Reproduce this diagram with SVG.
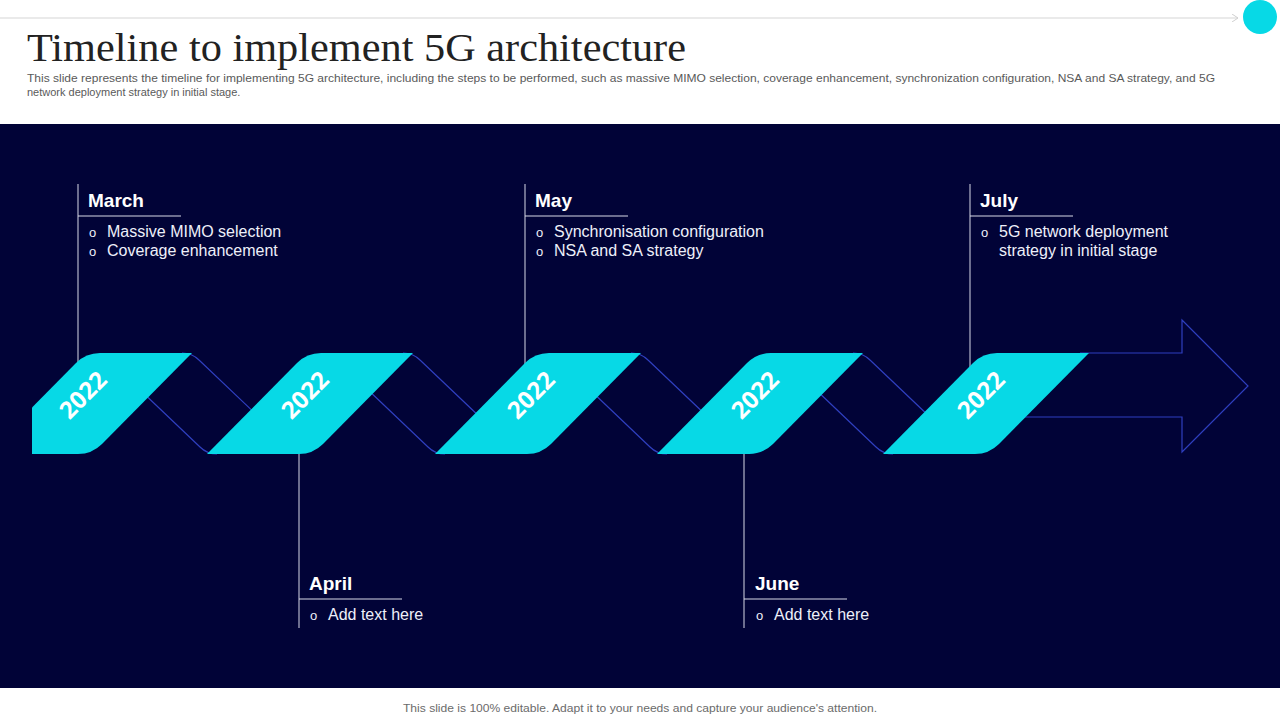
<svg xmlns="http://www.w3.org/2000/svg" width="1280" height="720" viewBox="0 0 1280 720">
<defs>
<style>
.title{font-family:"Liberation Serif","Times New Roman",serif;font-size:40px;fill:#222222}
.sub{font-family:"Liberation Sans",Arial,sans-serif;font-size:11px;fill:#5a5a5a}
.foot{font-family:"Liberation Sans",Arial,sans-serif;font-size:11px;fill:#6b6b6b}
.head{font-family:"Liberation Sans",Arial,sans-serif;font-size:19px;font-weight:bold;fill:#ffffff}
.item{font-family:"Liberation Sans",Arial,sans-serif;font-size:16px;fill:#eef0fa}
.bul{font-family:"Liberation Sans",Arial,sans-serif;font-size:13px;fill:#eef0fa}
.year{font-family:"Open Sans","Noto Sans",sans-serif;font-size:24px;font-weight:bold;fill:#ffffff}
.front{fill:#07d9e6}
.back{fill:none;stroke:#2f3fbf;stroke-width:1.2}
.lead{stroke:#d8dae8;stroke-width:1;fill:none}
</style>
<clipPath id="clipL"><rect x="32" y="300" width="400" height="200"/></clipPath>
<marker id="tip" markerWidth="8" markerHeight="8" refX="6" refY="4" orient="auto" markerUnits="userSpaceOnUse">
<path d="M0,0 L6,4 L0,8" fill="none" stroke="#cfcfcf" stroke-width="1"/>
</marker>
</defs>
<rect width="1280" height="720" fill="#ffffff"/>
<line x1="0" y1="18" x2="1238" y2="18" stroke="#d6d6d6" stroke-width="1.2" marker-end="url(#tip)"/>
<circle cx="1260" cy="17" r="17" fill="#07d9e6"/>
<text class="title" x="27" y="61" textLength="659" lengthAdjust="spacingAndGlyphs">Timeline to implement 5G architecture</text>
<text class="sub" x="27" y="82" textLength="1188" lengthAdjust="spacingAndGlyphs">This slide represents the timeline for implementing 5G architecture, including the steps to be performed, such as massive MIMO  selection, coverage enhancement, synchronization configuration, NSA and SA strategy, and 5G</text>
<text class="sub" x="27" y="96">network deployment strategy in initial stage.</text>
<rect x="0" y="124" width="1280" height="564" fill="#010337"/>
<text class="foot" x="403" y="712" textLength="474" lengthAdjust="spacingAndGlyphs">This slide is 100% editable. Adapt it to your needs and capture your audience's attention.</text>

<g id="connectors">
<line class="lead" x1="78" y1="184" x2="78" y2="400"/>
<line class="lead" x1="525" y1="184" x2="525" y2="400"/>
<line class="lead" x1="970" y1="184" x2="970" y2="400"/>
<line class="lead" x1="299" y1="420" x2="299" y2="628"/>
<line class="lead" x1="744" y1="420" x2="744" y2="628"/>
</g>

<g id="ribbon">
<g id="back-strips">
<path class="back" d="M182,353 Q192,353 199,360 L261,419"/>
<path class="back" d="M137,387 L200,447 Q207,454 217,454"/>
<path class="back" d="M403,353 Q413,353 420,360 L482,419"/>
<path class="back" d="M365,387 L428,447 Q435,454 445,454"/>
<path class="back" d="M631,353 Q641,353 648,360 L710,419"/>
<path class="back" d="M587,387 L650,447 Q657,454 667,454"/>
<path class="back" d="M853,353 Q863,353 870,360 L932,419"/>
<path class="back" d="M813,387 L876,447 Q883,454 893,454"/>
<path class="back" d="M1080,353 L1182,353 L1182,320 L1248,386 L1182,452 L1182,417 L1015,417"/>
</g>
<g id="seg1">
<path class="front" clip-path="url(#clipL)" d="M-14,454 L76,363 Q86,353 100,353 L192,353 L102,444 Q92,454 78,454 Z"/>
<text class="year" transform="translate(89,401) rotate(-45)" text-anchor="middle">2022</text>
</g>
<g id="seg2">
<path class="front" d="M207,454 L297,363 Q307,353 321,353 L413,353 L323,444 Q313,454 299,454 Z"/>
<text class="year" transform="translate(311,401) rotate(-45)" text-anchor="middle">2022</text>
</g>
<g id="seg3">
<path class="front" d="M435,454 L525,363 Q535,353 549,353 L641,353 L551,444 Q541,454 527,454 Z"/>
<text class="year" transform="translate(537,401) rotate(-45)" text-anchor="middle">2022</text>
</g>
<g id="seg4">
<path class="front" d="M657,454 L747,363 Q757,353 771,353 L863,353 L773,444 Q763,454 749,454 Z"/>
<text class="year" transform="translate(761,401) rotate(-45)" text-anchor="middle">2022</text>
</g>
<g id="seg5">
<path class="front" d="M883,454 L973,363 Q983,353 997,353 L1089,353 L999,444 Q989,454 975,454 Z"/>
<text class="year" transform="translate(987,401) rotate(-45)" text-anchor="middle">2022</text>
</g>
</g>

<g id="node-march">
<line class="lead" x1="78" y1="216" x2="181" y2="216"/>
<text class="head" x="88" y="207">March</text>
<text class="bul" x="89" y="237">o</text>
<text class="item" x="107" y="237">Massive MIMO  selection</text>
<text class="bul" x="89" y="256">o</text>
<text class="item" x="107" y="256">Coverage enhancement</text>
</g>
<g id="node-may">
<line class="lead" x1="525" y1="216" x2="628" y2="216"/>
<text class="head" x="535" y="207">May</text>
<text class="bul" x="536" y="237">o</text>
<text class="item" x="554" y="237">Synchronisation configuration</text>
<text class="bul" x="536" y="256">o</text>
<text class="item" x="554" y="256">NSA and SA strategy</text>
</g>
<g id="node-july">
<line class="lead" x1="970" y1="216" x2="1073" y2="216"/>
<text class="head" x="980" y="207">July</text>
<text class="bul" x="981" y="237">o</text>
<text class="item" x="999" y="237">5G network deployment</text>
<text class="item" x="999" y="256">strategy in initial stage</text>
</g>
<g id="node-april">
<line class="lead" x1="299" y1="599" x2="402" y2="599"/>
<text class="head" x="309" y="590">April</text>
<text class="bul" x="310" y="620">o</text>
<text class="item" x="328" y="620">Add text here</text>
</g>
<g id="node-june">
<line class="lead" x1="744" y1="599" x2="847" y2="599"/>
<text class="head" x="755" y="590">June</text>
<text class="bul" x="756" y="620">o</text>
<text class="item" x="774" y="620">Add text here</text>
</g>
</svg>
